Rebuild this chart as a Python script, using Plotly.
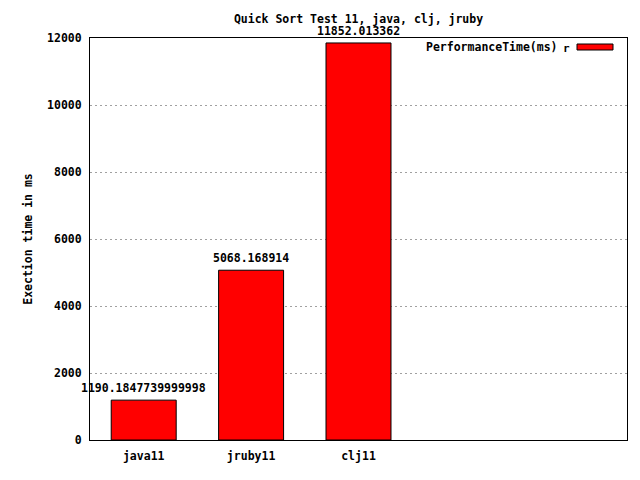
import plotly.graph_objects as go

categories = ["java11", "jruby11", "clj11"]
values = [1190.1847739999998, 5068.168914, 11852.013362]
value_labels = ["1190.1847739999998", "5068.168914", "11852.013362"]
y_ticks = [0, 2000, 4000, 6000, 8000, 10000, 12000]

FONT = "DejaVu Sans Mono"
FS = 11.5
positions = list(range(len(categories)))

W, H = 640, 480
l, r, t, b = 90, 13, 38, 40
pw, ph = W - l - r, H - t - b


def px(xp):
    return (xp - l) / pw


def py(yp):
    return 1 - (yp - t) / ph


fig = go.Figure()
fig.add_trace(go.Bar(
    x=positions, y=values, width=0.605,
    marker=dict(color="#ff0000", line=dict(color="#000000", width=1)),
    showlegend=False, hoverinfo="skip",
))

for xi, v, lab in zip(positions, values, value_labels):
    fig.add_annotation(x=xi, y=v, xref="x", yref="y", text="<b>%s</b>" % lab,
                       showarrow=False, yanchor="bottom", yshift=3,
                       font=dict(family=FONT, size=FS, color="#000000"))

# legend (gnuplot style)
fig.add_annotation(x=px(560), y=py(47), xref="paper", yref="paper",
                   text="<b>PerformanceTime(ms)</b>",
                   showarrow=False, xanchor="right", yanchor="middle",
                   font=dict(family=FONT, size=FS, color="#000000"))
fig.add_annotation(x=px(566), y=py(48.5), xref="paper", yref="paper", text="<b>r</b>",
                   showarrow=False, xanchor="center", yanchor="middle",
                   font=dict(family=FONT, size=11, color="#000000"))
fig.add_shape(type="rect", xref="paper", yref="paper",
              x0=px(577), x1=px(613), y0=py(44), y1=py(50),
              fillcolor="#ff0000", line=dict(color="#000000", width=1))

fig.update_layout(
    width=W, height=H,
    margin=dict(l=l, r=r, t=t, b=b),
    paper_bgcolor="#ffffff", plot_bgcolor="#ffffff",
    font=dict(family=FONT, size=FS, color="#000000"),
    title=dict(text="<b>Quick Sort Test 11, java, clj, jruby</b>", x=0.5, xref="paper",
               y=1 - 19 / H, yanchor="middle", xanchor="center",
               font=dict(family=FONT, size=FS, color="#000000")),
    xaxis=dict(range=[-0.5, 4.5], tickmode="array", tickvals=positions,
               ticktext=["<b>%s</b>" % c for c in categories],
               showgrid=False, zeroline=False, showline=True, mirror=True,
               linecolor="#000000", linewidth=1, ticks="", ticklabelstandoff=5,
               fixedrange=True),
    yaxis=dict(range=[0, 12000], tickmode="array", tickvals=y_ticks,
               ticktext=["<b>%d</b>" % v for v in y_ticks],
               showgrid=True, gridcolor="#a0a0a0", griddash="2px,3px", gridwidth=1,
               zeroline=False, showline=True, mirror=True,
               linecolor="#000000", linewidth=1, ticks="", ticklabelstandoff=5,
               title=dict(text="<b>Exection time in ms</b>", standoff=12,
                          font=dict(family=FONT, size=FS, color="#000000"))),
    bargap=0,
)

fig.write_html("out.html", config={"displayModeBar": False, "staticPlot": True},
               post_script="document.body.style.margin='0';")
